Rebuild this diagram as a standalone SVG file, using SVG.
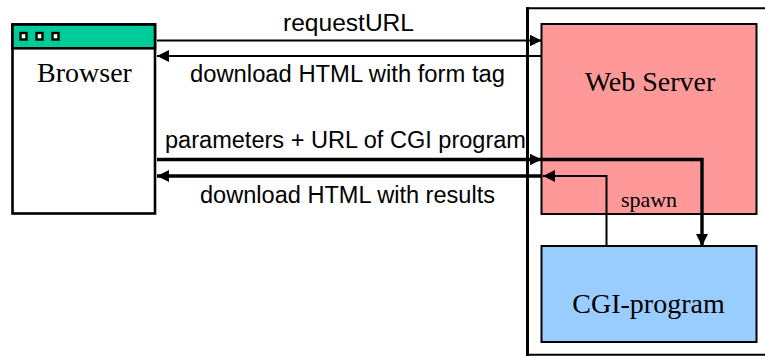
<svg xmlns="http://www.w3.org/2000/svg" width="765" height="356" viewBox="0 0 765 356">
  <defs>
    <marker id="head" markerUnits="userSpaceOnUse" markerWidth="12" markerHeight="12" refX="12" refY="6" orient="auto">
      <path d="M0,0 L12,6 L0,12 Z" fill="#000"/>
    </marker>
    <style>
      .box { stroke: #000; stroke-width: 2; }
      .serif { font-family: "Liberation Serif", "Times New Roman", serif; fill: #000; }
      .sans { font-family: "Liberation Sans", Arial, sans-serif; font-size: 23px; fill: #000; }
      .wire { fill: none; stroke: #000; stroke-width: 2; }
      .wire.bold { stroke-width: 3.4; }
    </style>
  </defs>
  <rect width="765" height="356" fill="#fff"/>

  <!-- host machine frame -->
  <g id="host">
    <path d="M527.5,8.3 H770 M529,354.7 H770" fill="none" stroke="#000" stroke-width="2"/>
    <line x1="527.5" y1="7" x2="527.5" y2="356" stroke="#000" stroke-width="3"/>
  </g>

  <!-- web server -->
  <g id="web-server">
    <rect class="box" x="541.5" y="24" width="215" height="190" fill="#FF9999"/>
    <text class="serif" x="650" y="91" font-size="28" text-anchor="middle">Web Server</text>
    <text class="serif" x="649" y="207" font-size="22" text-anchor="middle">spawn</text>
  </g>

  <!-- CGI program -->
  <g id="cgi-program">
    <rect class="box" x="541.5" y="246" width="215" height="96" fill="#99CCFF"/>
    <text class="serif" x="648.5" y="313" font-size="28" text-anchor="middle">CGI-program</text>
  </g>

  <!-- browser window -->
  <g id="browser">
    <rect x="12.5" y="24.5" width="142.5" height="189" fill="#fff" stroke="#000" stroke-width="2.6"/>
    <rect x="12.5" y="24.5" width="142.5" height="23.8" fill="#00CC99" stroke="#000" stroke-width="2.6"/>
    <g fill="#fff" stroke="#000" stroke-width="2.4">
      <rect x="20.5" y="33" width="6" height="6.5"/>
      <rect x="36.5" y="33" width="6" height="6.5"/>
      <rect x="52.5" y="33" width="6" height="6.5"/>
    </g>
    <text class="serif" x="84.5" y="82" font-size="28" text-anchor="middle">Browser</text>
  </g>

  <!-- connectors -->
  <g id="connectors">
    <path class="wire" d="M157,40.5 H541.5" marker-end="url(#head)"/>
    <path class="wire" d="M541.5,56 H157" marker-end="url(#head)"/>
    <path class="wire bold" d="M157,159.5 H541.5" marker-end="url(#head)"/>
    <path class="wire bold" d="M541.5,159.5 H702 V246" marker-end="url(#head)"/>
    <path class="wire" d="M606.5,246 V176 H543" marker-end="url(#head)"/>
    <path class="wire bold" d="M541.5,176 H157" marker-end="url(#head)"/>

    <text class="sans" x="283" y="31" textLength="131" lengthAdjust="spacingAndGlyphs">requestURL</text>
    <text class="sans" x="190" y="82" textLength="315" lengthAdjust="spacingAndGlyphs">download HTML with form tag</text>
    <text class="sans" x="165" y="148" textLength="361" lengthAdjust="spacingAndGlyphs">parameters + URL of CGI program</text>
    <text class="sans" x="200" y="203" textLength="295" lengthAdjust="spacingAndGlyphs">download HTML with results</text>
  </g>
</svg>
